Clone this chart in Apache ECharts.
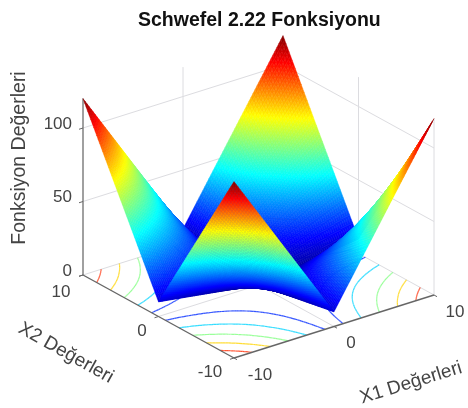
<!DOCTYPE html>
<html>
<head>
<meta charset="utf-8">
<style>
  html, body { margin: 0; padding: 0; background: #fff; }
  #main { width: 468px; height: 408px; }
</style>
<script src="https://cdn.jsdelivr.net/npm/echarts@6/dist/echarts.min.js"></script>
</head>
<body>
<div id="main"></div>
<script>
var titleText = 'Schwefel 2.22 Fonksiyonu';
var x1Name = 'X1 Değerleri';
var x2Name = 'X2 Değerleri';
var zName = 'Fonksiyon Değerleri';

// surface values
var gridX1 = [-10, -8, -6, -4, -2, 0, 2, 4, 6, 8, 10];
var gridX2 = [-10, -8, -6, -4, -2, 0, 2, 4, 6, 8, 10];
var surfaceZ = [
  [120, 98, 76, 54, 32, 10, 32, 54, 76, 98, 120],
  [98, 80, 62, 44, 26, 8, 26, 44, 62, 80, 98],
  [76, 62, 48, 34, 20, 6, 20, 34, 48, 62, 76],
  [54, 44, 34, 24, 14, 4, 14, 24, 34, 44, 54],
  [32, 26, 20, 14, 8, 2, 8, 14, 20, 26, 32],
  [10, 8, 6, 4, 2, 0, 2, 4, 6, 8, 10],
  [32, 26, 20, 14, 8, 2, 8, 14, 20, 26, 32],
  [54, 44, 34, 24, 14, 4, 14, 24, 34, 44, 54],
  [76, 62, 48, 34, 20, 6, 20, 34, 48, 62, 76],
  [98, 80, 62, 44, 26, 8, 26, 44, 62, 80, 98],
  [120, 98, 76, 54, 32, 10, 32, 54, 76, 98, 120]
];
var contourLevels = [20, 40, 60, 80, 100];
var x1Ticks = [-10, 0, 10];
var x2Ticks = [-10, 0, 10];
var zTicks = [0, 50, 100];
var zTop = 120;

var SUB = 10;
var fontName = '"Liberation Sans", Arial, sans-serif';
var textColor = '#444';
var gridColor = '#dcdce0';
var axisColor = '#666';

// view of the box, in page pixels
function project(x1, x2, z) {
  return [258.5 + 10 * x1 - 7.55 * x2, 285 - 3.15 * x1 - 4.15 * x2 - 1.47 * z];
}

function jet(t) {
  var r = Math.min(Math.max(Math.min(4 * t - 1.5, 4.5 - 4 * t), 0), 1);
  var g = Math.min(Math.max(Math.min(4 * t - 0.5, 3.5 - 4 * t), 0), 1);
  var b = Math.min(Math.max(Math.min(4 * t + 0.5, 2.5 - 4 * t), 0), 1);
  return 'rgb(' + Math.round(r * 255) + ',' + Math.round(g * 255) + ',' + Math.round(b * 255) + ')';
}

// corner values of a small piece of cell i, j
function zAt(i, j, s, t) {
  var a = surfaceZ[j][i], b = surfaceZ[j][i + 1];
  var c = surfaceZ[j + 1][i], d = surfaceZ[j + 1][i + 1];
  return a * (1 - s) * (1 - t) + b * s * (1 - t) + c * (1 - s) * t + d * s * t;
}

function lineEl(api, p, q, color, width, opacity) {
  var a = api.coord(p), b = api.coord(q);
  return {
    type: 'line',
    shape: { x1: a[0], y1: a[1], x2: b[0], y2: b[1] },
    style: { stroke: color, lineWidth: width, opacity: opacity === undefined ? 1 : opacity, fill: null }
  };
}

function textEl(api, p, text, size, rotation, align) {
  var a = api.coord(p);
  return {
    type: 'text',
    x: a[0],
    y: a[1],
    rotation: rotation || 0,
    style: {
      text: text,
      fill: textColor,
      font: size + 'px ' + fontName,
      align: align || 'center',
      verticalAlign: 'middle'
    }
  };
}

function contourEls(api, level) {
  var els = [];
  var color = jet(level / zTop);
  var nx = gridX1.length - 1, ny = gridX2.length - 1;
  for (var i = 0; i < nx; i++) {
    for (var j = 0; j < ny; j++) {
      var dx = (gridX1[i + 1] - gridX1[i]) / SUB;
      var dy = (gridX2[j + 1] - gridX2[j]) / SUB;
      for (var m = 0; m < SUB; m++) {
        for (var n = 0; n < SUB; n++) {
          var x0 = gridX1[i] + m * dx, y0 = gridX2[j] + n * dy;
          var corners = [
            [x0, y0, zAt(i, j, m / SUB, n / SUB)],
            [x0 + dx, y0, zAt(i, j, (m + 1) / SUB, n / SUB)],
            [x0 + dx, y0 + dy, zAt(i, j, (m + 1) / SUB, (n + 1) / SUB)],
            [x0, y0 + dy, zAt(i, j, m / SUB, (n + 1) / SUB)]
          ];
          var hits = [];
          for (var k = 0; k < 4; k++) {
            var a = corners[k], b = corners[(k + 1) % 4];
            if ((a[2] < level) !== (b[2] < level)) {
              var f = (level - a[2]) / (b[2] - a[2]);
              hits.push(project(a[0] + f * (b[0] - a[0]), a[1] + f * (b[1] - a[1]), 0));
            }
          }
          if (hits.length === 2) {
            els.push(lineEl(api, hits[0], hits[1], color, 1.2, 0.8));
          }
        }
      }
    }
  }
  return els;
}

function renderBox(params, api) {
  var c = [];
  var i;
  // back walls and floor grid
  zTicks.forEach(function (z) {
    c.push(lineEl(api, project(-10, 10, z), project(10, 10, z), gridColor, 1));
    c.push(lineEl(api, project(10, 10, z), project(10, -10, z), gridColor, 1));
  });
  c.push(lineEl(api, project(0, 10, 0), project(0, 10, zTop), gridColor, 1));
  c.push(lineEl(api, project(10, 0, 0), project(10, 0, zTop), gridColor, 1));
  c.push(lineEl(api, project(10, 10, 0), project(10, 10, zTop), gridColor, 1));
  c.push(lineEl(api, project(10, -10, 0), project(10, -10, zTop), gridColor, 1));
  c.push(lineEl(api, project(0, 10, 0), project(0, -10, 0), gridColor, 1));
  c.push(lineEl(api, project(10, 0, 0), project(-10, 0, 0), gridColor, 1));

  contourLevels.forEach(function (level) {
    c = c.concat(contourEls(api, level));
  });

  // axes
  c.push(lineEl(api, project(-10, 10, 0), project(-10, 10, zTop), '#808080', 1.5));
  c.push(lineEl(api, project(-10, 10, 0), project(-10, -10, 0), axisColor, 1.4));
  c.push(lineEl(api, project(-10, -10, 0), project(10, -10, 0), axisColor, 1.4));
  for (i = 0; i < zTicks.length; i++) {
    c.push(lineEl(api, project(-10, 10, zTicks[i]), project(-10.4, 10, zTicks[i]), axisColor, 1));
    c.push(textEl(api, [72, project(-10, 10, zTicks[i])[1] - 4], String(zTicks[i]), 17, 0, 'right'));
  }
  for (i = 0; i < x2Ticks.length; i++) {
    c.push(lineEl(api, project(-10, x2Ticks[i], 0), project(-10.4, x2Ticks[i], 0), axisColor, 1));
    c.push(lineEl(api, project(x1Ticks[i], -10, 0), project(x1Ticks[i], -10.4, 0), axisColor, 1));
  }
  c.push(textEl(api, [61, 292], String(x2Ticks[2]), 17));
  c.push(textEl(api, [142, 331], String(x2Ticks[1]), 17));
  c.push(textEl(api, [210, 372], String(x2Ticks[0]), 17));
  c.push(textEl(api, [260, 375], String(x1Ticks[0]), 17));
  c.push(textEl(api, [351, 343], String(x1Ticks[1]), 17));
  c.push(textEl(api, [455, 312], String(x1Ticks[2]), 17));

  c.push(textEl(api, [20, 158], zName, 19.5, Math.PI / 2));
  c.push(textEl(api, [66, 353], x2Name, 19, -0.51));
  c.push(textEl(api, [411, 383], x1Name, 19, 0.3));
  return { type: 'group', children: c };
}

function renderCell(params, api) {
  var i = api.value(0), j = api.value(1);
  var dx = (gridX1[i + 1] - gridX1[i]) / SUB;
  var dy = (gridX2[j + 1] - gridX2[j]) / SUB;
  var c = [];
  for (var m = SUB - 1; m >= 0; m--) {
    for (var n = SUB - 1; n >= 0; n--) {
      var x0 = gridX1[i] + m * dx, y0 = gridX2[j] + n * dy;
      var z00 = zAt(i, j, m / SUB, n / SUB);
      var z10 = zAt(i, j, (m + 1) / SUB, n / SUB);
      var z11 = zAt(i, j, (m + 1) / SUB, (n + 1) / SUB);
      var z01 = zAt(i, j, m / SUB, (n + 1) / SUB);
      var color = jet((z00 + z10 + z11 + z01) / 4 / zTop);
      c.push({
        type: 'polygon',
        shape: {
          points: [
            api.coord(project(x0, y0, z00)),
            api.coord(project(x0 + dx, y0, z10)),
            api.coord(project(x0 + dx, y0 + dy, z11)),
            api.coord(project(x0, y0 + dy, z01))
          ]
        },
        style: { fill: color, stroke: color, lineWidth: 0.5 }
      });
    }
  }
  return { type: 'group', children: c };
}

// back cells first so the front of the surface covers them
var cellOrder = [];
for (var i = gridX1.length - 2; i >= 0; i--) {
  for (var j = gridX2.length - 2; j >= 0; j--) {
    cellOrder.push([i, j]);
  }
}

var myChart = echarts.init(document.getElementById('main'), null, { renderer: 'canvas' });
var option = {
  animation: false,
  backgroundColor: '#fff',
  title: {
    text: titleText,
    left: 133,
    top: 6,
    textStyle: { fontFamily: fontName, fontSize: 19.5, fontWeight: 'bold', color: '#111' }
  },
  tooltip: { show: false },
  grid: { left: 0, right: 0, top: 0, bottom: 0 },
  xAxis: { type: 'value', min: 0, max: 468, show: false },
  yAxis: { type: 'value', min: 0, max: 408, inverse: true, show: false },
  series: [
    {
      type: 'custom',
      renderItem: renderBox,
      data: [[0, 0]],
      clip: false,
      silent: true,
      z: 1
    },
    {
      type: 'custom',
      renderItem: renderCell,
      data: cellOrder,
      progressive: 0,
      clip: false,
      silent: true,
      z: 2
    }
  ]
};
myChart.setOption(option);
</script>
</body>
</html>
